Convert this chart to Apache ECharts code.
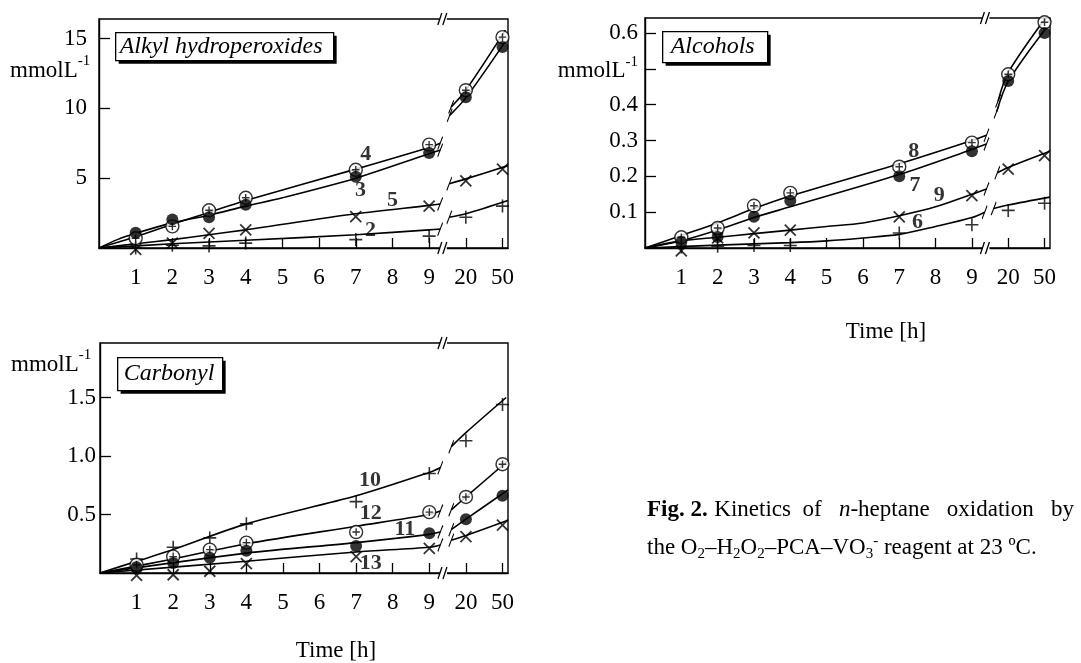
<!DOCTYPE html>
<html>
<head>
<meta charset="utf-8">
<script src="https://cdn.jsdelivr.net/npm/echarts@6/dist/echarts.min.js"></script>
<style>
html, body { margin: 0; padding: 0; background: #fff; }
#chart { width: 1081px; height: 663px; }
</style>
</head>
<body>
<div id="chart"></div>
<script>
// sampling times (h) and where they sit on the broken time axis
var hours   = [1, 2, 3, 4, 7, 9, 20, 50];
var hourPos = [1, 2, 3, 4, 7, 9, 10, 11];
var tickPos  = [1, 2, 3, 4, 5, 6, 7, 8, 9, 10, 11];
var tickText = ['1', '2', '3', '4', '5', '6', '7', '8', '9', '20', '50'];
var breakPos = 9.4;

// Alkyl hydroperoxides (mmol/L)
var ahp4 = [0.7, 1.55, 2.7, 3.6, 5.6, 7.4, 11.3, 15.1];    // open circle
var ahp3 = [1.1, 2.05, 2.2, 3.1, 5.1, 6.8, 10.8, 14.4];    // filled circle
var ahp5 = [-0.1, 0.35, 1.05, 1.3, 2.25, 3.0, 4.8, 5.65];  // cross
var ahp2 = [0.0, 0.2, 0.15, 0.35, 0.6, 0.85, 2.2, 3.0];    // plus
var ahpFit4  = [[0,0],[1,0.8],[2,1.7],[3,2.55],[4,3.4],[7,5.65],[9,7.2],[9.3,7.5]];
var ahpFit3  = [[0,0],[0.5,0.6],[1,1.05],[2,1.8],[3,2.35],[4,3.0],[5,3.6],[7,5.0],[9,6.75],[9.3,7.0]];
var ahpFit5  = [[0,0],[1,0.3],[2,0.6],[3,0.95],[4,1.3],[7,2.45],[9,3.05],[9.3,3.15]];
var ahpFit2  = [[0,0],[2,0.3],[4,0.55],[7,0.95],[9,1.3],[9.3,1.35]];
var ahpFit4R = [[9.6,10.1],[10,11.3],[11.08,15.6]];
var ahpFit3R = [[9.56,9.5],[10,10.75],[11.08,14.8]];
var ahpFit5R = [[9.55,4.6],[10,4.95],[11.15,5.9]];
var ahpFit2R = [[9.55,2.2],[10,2.45],[11.15,3.4]];
var ahpLabels = [['4', 7.27, 6.7], ['3', 7.13, 4.1], ['5', 8.0, 3.4], ['2', 7.4, 1.27]];

// Alcohols (mmol/L)
var alc8 = [0.03, 0.056, 0.118, 0.154, 0.227, 0.294, 0.485, 0.63];
var alc7 = [0.017, 0.031, 0.087, 0.132, 0.2, 0.27, 0.466, 0.6];
var alc9 = [-0.008, 0.028, 0.042, 0.05, 0.087, 0.146, 0.22, 0.258];
var alc6 = [0.003, 0.005, 0.007, 0.007, 0.042, 0.065, 0.105, 0.125];
var alcFit8  = [[0,0],[1,0.035],[2,0.07],[3,0.11],[4,0.145],[7,0.235],[9,0.3],[9.4,0.315]];
var alcFit7  = [[0,0],[1,0.02],[2,0.05],[3,0.085],[4,0.115],[7,0.205],[9,0.275],[9.4,0.29]];
var alcFit9  = [[0,0],[1,0.02],[2,0.03],[3,0.04],[4,0.05],[5,0.06],[6,0.07],[7,0.09],[8,0.115],[9,0.15],[9.4,0.165]];
var alcFit6  = [[0,0],[2,0.008],[4,0.015],[5,0.02],[6,0.028],[7,0.038],[8,0.06],[9,0.085],[9.35,0.1]];
var alcFit8R = [[9.72,0.41],[10,0.49],[11.05,0.645]];
var alcFit7R = [[9.68,0.38],[10,0.465],[11.05,0.615]];
var alcFit9R = [[9.7,0.21],[10,0.225],[11.15,0.27]];
var alcFit6R = [[9.6,0.11],[10,0.12],[11.15,0.142]];
var alcLabels = [['8', 7.4, 0.27], ['7', 7.43, 0.176], ['9', 8.1, 0.148], ['6', 7.5, 0.073]];

// Carbonyl (mmol/L)
var car10 = [0.12, 0.22, 0.3, 0.42, 0.61, 0.85, 1.13, 1.44];
var car12 = [0.07, 0.14, 0.2, 0.26, 0.35, 0.52, 0.65, 0.93];
var car11 = [0.05, 0.085, 0.13, 0.19, 0.23, 0.34, 0.46, 0.66];
var car13 = [-0.02, -0.015, 0.015, 0.08, 0.14, 0.21, 0.31, 0.41];
var carFit10  = [[0,0],[1,0.1],[2,0.2],[4,0.42],[7,0.66],[9,0.86],[9.3,0.9]];
var carFit12  = [[0,0],[2,0.12],[4,0.25],[7,0.4],[9,0.5],[9.3,0.53]];
var carFit11  = [[0,0],[4,0.17],[7,0.26],[9,0.33],[9.3,0.35]];
var carFit13  = [[0,0],[4,0.1],[7,0.18],[9,0.22],[9.3,0.24]];
var carFit10R = [[9.6,1.08],[10,1.2],[11.1,1.5]];
var carFit12R = [[9.6,0.54],[10,0.65],[11.15,0.96]];
var carFit11R = [[9.6,0.37],[10,0.46],[11.15,0.71]];
var carFit13R = [[9.6,0.28],[10,0.32],[11.15,0.45]];
var carLabels = [['10', 7.38, 0.79], ['12', 7.4, 0.51], ['11', 8.33, 0.37], ['13', 7.4, 0.085]];

var FONT = 'Liberation Serif';
var FS = 23;
var SYM = {
	dot:    { symbol: 'path://M0,6A6,6,0,1,1,12,6A6,6,0,1,1,0,6ZM6,2.5L6,9.5M2.5,6L9.5,6', size: 13, style: { color: '#fff', borderColor: '#000', borderWidth: 1.4 } },
	filled: { symbol: 'circle', size: 12, style: { color: '#000' } },
	cross:  { symbol: 'path://M0,0L10,10M10,0L0,10', size: 11, style: { color: 'transparent', borderColor: '#000', borderWidth: 1.8 } },
	plus:   { symbol: 'path://M5,0L5,10M0,5L10,5', size: 13, style: { color: 'transparent', borderColor: '#000', borderWidth: 1.6 } }
};
// small slash drawn where a fitted curve is cut by the axis break
var SLASH = 'path://M0,10L4,0';

function points(vals, kind, idx) {
	var s = SYM[kind];
	return {
		type: 'scatter', xAxisIndex: idx, yAxisIndex: idx, z: 5, clip: false,
		symbol: s.symbol, symbolSize: s.size, itemStyle: s.style,
		data: vals.map(function (v, i) { return [hourPos[i], v]; })
	};
}
function fit(data, idx) {
	// the cut end is the point nearest to the break
	var cut = Math.abs(data[0][0] - breakPos) < Math.abs(data[data.length - 1][0] - breakPos) ? 0 : data.length - 1;
	return {
		type: 'line', xAxisIndex: idx, yAxisIndex: idx, z: 3, clip: false,
		smooth: 0.3, showSymbol: true, symbol: 'none',
		lineStyle: { color: '#000', width: 1.6 },
		itemStyle: { color: 'transparent', borderColor: '#000', borderWidth: 1.3 },
		data: data.map(function (d, i) {
			return i === cut ? { value: d, symbol: SLASH, symbolSize: [5, 13] } : { value: d };
		})
	};
}
function numbers(labels, idx) {
	return {
		type: 'scatter', xAxisIndex: idx, yAxisIndex: idx, z: 6, symbolSize: 0, clip: false,
		label: {
			show: true, position: 'inside', formatter: '{b}',
			fontFamily: FONT, fontWeight: 'bold', fontSize: 22, color: '#000'
		},
		data: labels.map(function (l) { return { name: l[0], value: [l[1], l[2]] }; })
	};
}
function breaks(idx, ymax) {
	return {
		type: 'custom', xAxisIndex: idx, yAxisIndex: idx, z: 10, clip: false,
		data: [[breakPos, ymax]],
		renderItem: function (params, api) {
			var top = api.coord([api.value(0), api.value(1)]);
			var bot = api.coord([api.value(0), 0]);
			var kids = [];
			[top, bot].forEach(function (p) {
				kids.push({ type: 'rect', shape: { x: p[0] - 4, y: p[1] - 3, width: 7, height: 6 }, style: { fill: '#fff' } });
				kids.push({ type: 'line', shape: { x1: p[0] - 6, y1: p[1] + 6, x2: p[0] - 2, y2: p[1] - 6 }, style: { stroke: '#000', lineWidth: 1.3 } });
				kids.push({ type: 'line', shape: { x1: p[0] - 1, y1: p[1] + 6, x2: p[0] + 3, y2: p[1] - 6 }, style: { stroke: '#000', lineWidth: 1.3 } });
			});
			return { type: 'group', children: kids };
		}
	};
}

var unitRich = {
	u: { fontFamily: FONT, fontSize: FS, color: '#000', lineHeight: 28, verticalAlign: 'bottom' },
	sup: { fontFamily: FONT, fontSize: 15, color: '#000', lineHeight: 17, verticalAlign: 'top' }
};

function xAx(idx) {
	return {
		type: 'value', gridIndex: idx, min: 0, max: 11.15,
		axisLine: { lineStyle: { color: '#000', width: 1.4 } },
		axisTick: { show: true, inside: true, length: 10, customValues: tickPos, lineStyle: { color: '#000', width: 1.3 } },
		axisLabel: {
			customValues: tickPos, margin: 18, fontFamily: FONT, fontSize: FS, color: '#000',
			formatter: function (v) { return tickText[tickPos.indexOf(v)]; }
		},
		splitLine: { show: false }
	};
}
function yAx(idx, max, ticks, fmt, margin) {
	return {
		type: 'value', gridIndex: idx, min: 0, max: max,
		axisLine: { show: true, lineStyle: { color: '#000', width: 1.4 } },
		axisTick: { show: true, inside: true, length: 11, customValues: ticks, lineStyle: { color: '#000', width: 1.3 } },
		axisLabel: {
			customValues: ticks, margin: margin, fontFamily: FONT, fontSize: FS, color: '#000',
			formatter: fmt, rich: unitRich
		},
		splitLine: { show: false }
	};
}

function titleBox(x, y, w, h, pad, text) {
	return {
		type: 'group', left: x, top: y,
		children: [
			{ type: 'rect', shape: { x: 3, y: 3, width: w, height: h }, style: { fill: '#000' } },
			{ type: 'rect', shape: { x: 0, y: 0, width: w, height: h }, style: { fill: '#fff', stroke: '#000', lineWidth: 1.3 } },
			{ type: 'text', x: pad, y: h / 2, style: { text: text, fontFamily: FONT, fontStyle: 'italic', fontSize: 24, fill: '#000', align: 'left', verticalAlign: 'middle' } }
		]
	};
}
function plainText(x, y, text, align) {
	return {
		type: 'text', x: x, y: y,
		style: { text: text, fontFamily: FONT, fontSize: FS, fill: '#000', align: align || 'left', verticalAlign: 'middle', rich: unitRich }
	};
}

var capRich = {
	b: { fontFamily: FONT, fontSize: FS, fontWeight: 'bold', color: '#000', lineHeight: 28 },
	n: { fontFamily: FONT, fontSize: FS, color: '#000', lineHeight: 28 },
	i: { fontFamily: FONT, fontSize: FS, fontStyle: 'italic', color: '#000', lineHeight: 28 },
	sub: { fontFamily: FONT, fontSize: 15, color: '#000', lineHeight: 15, verticalAlign: 'bottom' },
	sup: { fontFamily: FONT, fontSize: 15, color: '#000', lineHeight: 15, verticalAlign: 'top' }
};

var chart = echarts.init(document.getElementById('chart'), null, { renderer: 'canvas' });
chart.setOption({
	animation: false,
	backgroundColor: '#fff',
	grid: [
		{ left: 99, top: 19, width: 409, height: 229, show: true, borderColor: '#000', borderWidth: 1.4 },
		{ left: 645, top: 18, width: 405, height: 230, show: true, borderColor: '#000', borderWidth: 1.4 },
		{ left: 100, top: 343, width: 408, height: 230, show: true, borderColor: '#000', borderWidth: 1.4 }
	],
	xAxis: [xAx(0), xAx(1), xAx(2)],
	yAxis: [
		yAx(0, 16.4, [5, 10, 15], function (v) { return String(v); }, 12),
		yAx(1, 0.642, [0.1, 0.2, 0.3, 0.4, 0.5, 0.6], function (v) {
			return v === 0.5 ? '{u|mmolL}{sup|-1}' : v.toFixed(1);
		}, 7),
		yAx(2, 1.966, [0.5, 1.0, 1.5], function (v) { return v.toFixed(1); }, 4)
	],
	graphic: [
		titleBox(115, 32, 218, 28, 4, 'Alkyl hydroperoxides'),
		titleBox(662, 31, 105, 31, 8, 'Alcohols'),
		titleBox(117, 357, 105, 33, 6, 'Carbonyl'),
		plainText(10, 68, '{u|mmolL}{sup|-1}'),
		plainText(11, 362, '{u|mmolL}{sup|-1}'),
		plainText(886, 332, 'Time [h]', 'center'),
		plainText(336, 651, 'Time [h]', 'center'),
		{
			type: 'text', x: 647, y: 510,
			style: {
				text: '{b|Fig. 2.}  {n|Kinetics  of  }{i| n}{n|-heptane   oxidation   by}',
				rich: capRich, verticalAlign: 'middle'
			}
		},
		{
			type: 'text', x: 647, y: 548,
			style: {
				text: '{n|the O}{sub|2}{n|–H}{sub|2}{n|O}{sub|2}{n|–PCA–VO}{sub|3}{sup|-}{n| reagent at 23 ºC.}',
				rich: capRich, verticalAlign: 'middle'
			}
		}
	],
	series: [
		fit(ahpFit4, 0), fit(ahpFit3, 0), fit(ahpFit5, 0), fit(ahpFit2, 0),
		fit(ahpFit4R, 0), fit(ahpFit3R, 0), fit(ahpFit5R, 0), fit(ahpFit2R, 0),
		points(ahp4, 'dot', 0), points(ahp3, 'filled', 0), points(ahp5, 'cross', 0), points(ahp2, 'plus', 0),
		numbers(ahpLabels, 0), breaks(0, 16.4),

		fit(alcFit8, 1), fit(alcFit7, 1), fit(alcFit9, 1), fit(alcFit6, 1),
		fit(alcFit8R, 1), fit(alcFit7R, 1), fit(alcFit9R, 1), fit(alcFit6R, 1),
		points(alc8, 'dot', 1), points(alc7, 'filled', 1), points(alc9, 'cross', 1), points(alc6, 'plus', 1),
		numbers(alcLabels, 1), breaks(1, 0.642),

		fit(carFit10, 2), fit(carFit12, 2), fit(carFit11, 2), fit(carFit13, 2),
		fit(carFit10R, 2), fit(carFit12R, 2), fit(carFit11R, 2), fit(carFit13R, 2),
		points(car10, 'plus', 2), points(car12, 'dot', 2), points(car11, 'filled', 2), points(car13, 'cross', 2),
		numbers(carLabels, 2), breaks(2, 1.966)
	]
});
</script>
</body>
</html>
